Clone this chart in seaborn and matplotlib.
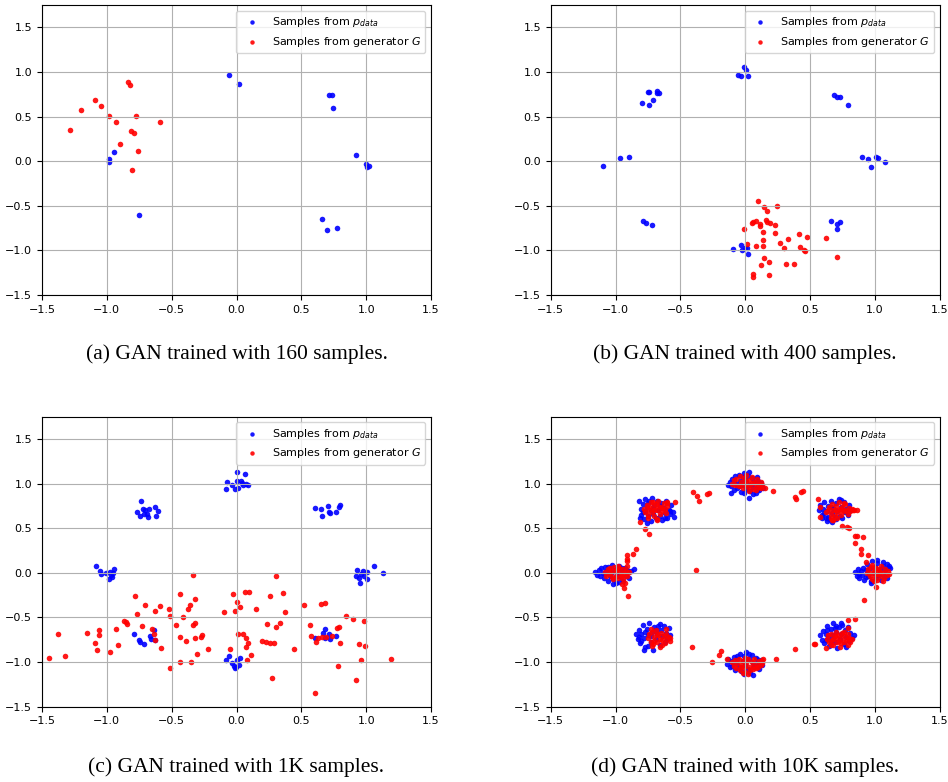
import numpy as np
import pandas as pd
import matplotlib
matplotlib.use("Agg")
import matplotlib.pyplot as plt
import seaborn as sns

# ---- panel (a): 160 samples ----
a_real = [(-0.054, 0.961), (0.018, 0.864), (0.712, 0.737), (0.733, 0.741), (0.746, 0.591),
          (0.918, 0.071), (0.995, -0.034), (1.005, -0.064), (1.021, -0.052), (-0.985, 0.022),
          (-0.982, -0.007), (-0.941, 0.105), (-0.753, -0.606), (0.661, -0.647), (0.699, -0.767),
          (0.774, -0.748)]
a_gen = [(-1.283, 0.352), (-1.200, 0.569), (-1.090, 0.688), (-1.046, 0.614), (-0.987, 0.509),
         (-0.931, 0.438), (-0.838, 0.887), (-0.825, 0.857), (-0.776, 0.505), (-0.810, 0.340),
         (-0.792, 0.314), (-0.897, 0.191), (-0.763, 0.112), (-0.807, -0.097), (-0.591, 0.438)]

# ---- panel (b): 400 samples ----
b_real = [(-0.008, 1.055), (0.008, 1.021), (-0.057, 0.965), (-0.036, 0.950), (0.023, 0.958),
          (-0.751, 0.771), (-0.741, 0.771), (-0.684, 0.782), (-0.677, 0.759), (-0.666, 0.767),
          (-0.795, 0.647), (-0.741, 0.625), (-0.713, 0.688),
          (0.682, 0.741), (0.710, 0.715), (0.731, 0.715), (0.790, 0.629),
          (-1.096, -0.052), (-0.967, 0.030), (-0.895, 0.049),
          (0.900, 0.049), (0.949, 0.019), (0.967, -0.060), (1.006, 0.049), (1.024, 0.037), (1.081, -0.007),
          (-0.792, -0.670), (-0.764, -0.692), (-0.715, -0.715),
          (0.661, -0.670), (0.710, -0.707), (0.728, -0.681), (0.707, -0.763),
          (-0.095, -0.988), (-0.033, -0.939), (-0.023, -0.999), (0.0, -0.969), (0.015, -0.973), (0.021, -1.040)]
b_gen = [(-0.008, -0.759), (0.095, -0.445), (0.147, -0.516), (0.170, -0.557), (0.244, -0.501),
         (0.049, -0.696), (0.064, -0.685), (0.085, -0.673), (0.116, -0.707), (0.113, -0.722),
         (0.160, -0.662), (0.167, -0.681), (0.188, -0.692), (0.229, -0.718), (0.134, -0.793),
         (0.231, -0.804), (0.015, -0.928), (0.085, -0.954), (0.136, -0.887), (0.141, -0.947),
         (0.268, -0.913), (0.327, -0.875), (0.298, -0.976), (0.412, -0.819), (0.473, -0.849),
         (0.419, -0.961), (0.450, -0.999), (0.458, -1.006), (0.144, -1.081), (0.183, -1.126),
         (0.124, -1.167), (0.311, -1.149), (0.376, -1.156), (0.059, -1.268), (0.059, -1.294),
         (0.183, -1.272), (0.623, -0.864), (0.710, -1.070)]

# ---- panel (c): 1K samples ----
c_real = [(0.003, 1.126), (0.069, 1.107), (-0.075, 1.021), (-0.031, 0.988), (0.003, 1.025),
          (0.033, 1.033), (0.046, 1.006), (0.077, 0.991), (0.051, 0.980), (-0.080, 0.943),
          (-0.015, 0.939), (0.013, 0.954), (0.087, 0.988),
          (-0.733, 0.801), (-0.771, 0.685), (-0.743, 0.632), (-0.722, 0.715), (-0.702, 0.700),
          (-0.692, 0.662), (-0.679, 0.625), (-0.671, 0.718), (-0.625, 0.737), (-0.607, 0.692),
          (-0.622, 0.640), (-0.712, 0.655),
          (0.602, 0.726), (0.650, 0.718), (0.656, 0.640), (0.707, 0.752), (0.717, 0.681),
          (0.722, 0.666), (0.766, 0.677), (0.787, 0.733), (0.799, 0.756),
          (-1.087, 0.079), (-1.051, 0.026), (-1.044, -0.011), (-1.005, -0.004), (-0.987, -0.067),
          (-0.967, -0.019), (-0.959, -0.052), (-0.941, 0.041), (-0.951, 0.0), (-0.977, 0.011),
          (0.933, 0.030), (0.923, -0.030), (0.943, -0.060), (0.956, -0.112), (0.979, 0.026),
          (0.987, -0.030), (1.010, 0.004), (1.010, -0.071), (1.057, 0.082), (1.129, -0.004),
          (0.959, -0.015),
          (-0.792, -0.681), (-0.753, -0.756), (-0.748, -0.778), (-0.710, -0.797), (-0.668, -0.711),
          (-0.661, -0.741), (-0.640, -0.643), (-0.632, -0.752),
          (0.679, -0.629), (0.666, -0.673), (0.684, -0.733), (0.712, -0.688), (0.720, -0.741),
          (0.771, -0.711), (0.607, -0.733),
          (-0.059, -0.935), (-0.080, -0.980), (-0.031, -1.006), (-0.023, -1.044), (-0.013, -1.070),
          (0.003, -0.973), (0.028, -0.958), (0.018, -1.033), (-0.003, -1.051)]
c_gen = [(-1.445, -0.954), (-1.380, -0.685), (-1.321, -0.935), (-1.154, -0.677), (-1.093, -0.786),
         (-1.072, -0.868), (-1.057, -0.643), (-1.057, -0.696), (-0.972, -0.887), (-0.928, -0.625),
         (-0.915, -0.804), (-0.864, -0.542), (-0.853, -0.554), (-0.843, -0.572), (-0.784, -0.254),
         (-0.766, -0.460), (-0.725, -0.591), (-0.702, -0.355), (-0.653, -0.632), (-0.638, -0.681),
         (-0.627, -0.430), (-0.625, -0.752), (-0.591, -0.370), (-0.584, -0.842), (-0.519, -0.400),
         (-0.509, -0.479), (-0.509, -1.070), (-0.463, -0.580), (-0.432, -0.239), (-0.432, -0.718),
         (-0.434, -0.999), (-0.411, -0.490), (-0.393, -0.763), (-0.375, -0.408), (-0.355, -0.355),
         (-0.350, -1.003), (-0.337, -0.022), (-0.337, -0.587), (-0.321, -0.565), (-0.319, -0.288),
         (-0.319, -0.730), (-0.303, -0.909), (-0.272, -0.718), (-0.265, -0.700), (-0.219, -0.849),
         (-0.098, -0.434), (-0.049, -0.853), (-0.026, -0.236), (-0.010, -0.426), (0.005, -0.325),
         (0.010, -0.688), (0.028, -0.382), (0.051, -0.688), (0.062, -0.213), (0.095, -0.217),
         (0.072, -0.730), (0.085, -0.789), (0.072, -0.834), (0.080, -0.973), (0.108, -0.924),
         (0.152, -0.404), (0.198, -0.767), (0.224, -0.778), (0.234, -0.572), (0.262, -0.262),
         (0.262, -0.789), (0.272, -1.175), (0.293, -0.789), (0.301, -0.606), (0.306, -0.030),
         (0.334, -0.561), (0.362, -0.224), (0.373, -0.438), (0.447, -0.849), (0.524, -0.355),
         (0.568, -0.580), (0.571, -0.707), (0.602, -1.343), (0.614, -0.778), (0.648, -0.352),
         (0.686, -0.337), (0.627, -0.730), (0.658, -0.715), (0.692, -0.722), (0.738, -0.703),
         (0.774, -0.614), (0.789, -0.606), (0.797, -0.782), (0.781, -1.044), (0.846, -0.483),
         (0.895, -0.520), (0.918, -1.197), (0.946, -0.801), (0.964, -0.973), (0.987, -0.539),
         (0.992, -0.819), (1.193, -0.961)]

# ---- panel (d): 10K samples, one list per mode ----
d_real_top = [(-0.12, 1.02), (-0.11, 0.97), (-0.10, 1.05), (-0.09, 0.93), (-0.08, 1.08), (-0.07, 1.00),
              (-0.06, 0.95), (-0.05, 1.10), (-0.04, 1.03), (-0.03, 0.91), (-0.02, 0.98), (-0.01, 1.12),
              (0.00, 1.04), (0.01, 0.94), (0.02, 1.09), (0.03, 0.99), (0.04, 0.92), (0.05, 1.06),
              (0.06, 0.96), (0.07, 1.02), (0.08, 0.90), (0.09, 1.07), (0.10, 0.97), (0.11, 0.93),
              (0.12, 1.01), (0.13, 0.96), (-0.13, 0.99), (-0.09, 1.01), (-0.05, 0.97), (0.03, 1.13),
              (0.06, 0.88), (0.03, 0.84), (-0.01, 0.89), (0.09, 0.93), (-0.11, 0.90), (0.14, 0.95),
              (-0.02, 1.07), (0.10, 1.03)]
d_real_ul = [(-0.82, 0.80), (-0.80, 0.72), (-0.80, 0.65), (-0.79, 0.77), (-0.78, 0.60), (-0.77, 0.83),
             (-0.77, 0.69), (-0.76, 0.74), (-0.75, 0.64), (-0.74, 0.80), (-0.73, 0.58), (-0.73, 0.70),
             (-0.72, 0.84), (-0.71, 0.66), (-0.70, 0.76), (-0.69, 0.61), (-0.68, 0.81), (-0.67, 0.70),
             (-0.66, 0.64), (-0.65, 0.78), (-0.64, 0.59), (-0.63, 0.73), (-0.62, 0.67), (-0.61, 0.80),
             (-0.60, 0.62), (-0.59, 0.71), (-0.58, 0.66), (-0.57, 0.76), (-0.56, 0.68), (-0.55, 0.63),
             (-0.81, 0.62), (-0.79, 0.68), (-0.75, 0.78), (-0.71, 0.72), (-0.66, 0.75), (-0.62, 0.62),
             (-0.58, 0.69), (-0.76, 0.56)]
d_real_ur = [(0.57, 0.70), (0.58, 0.76), (0.59, 0.65), (0.60, 0.72), (0.61, 0.79), (0.62, 0.62),
             (0.63, 0.69), (0.64, 0.75), (0.65, 0.60), (0.66, 0.81), (0.67, 0.67), (0.68, 0.73),
             (0.69, 0.63), (0.70, 0.78), (0.71, 0.69), (0.72, 0.83), (0.73, 0.64), (0.74, 0.74),
             (0.75, 0.61), (0.76, 0.79), (0.77, 0.68), (0.78, 0.72), (0.79, 0.65), (0.80, 0.76),
             (0.81, 0.70), (0.61, 0.67), (0.64, 0.63), (0.66, 0.74), (0.70, 0.60), (0.74, 0.82),
             (0.63, 0.58), (0.67, 0.57), (0.59, 0.62)]
d_real_l = [(-1.16, 0.01), (-1.14, -0.02), (-1.13, 0.03), (-1.12, -0.04), (-1.11, 0.05), (-1.10, 0.00),
            (-1.09, -0.06), (-1.08, 0.07), (-1.07, 0.02), (-1.06, -0.09), (-1.05, 0.04), (-1.04, -0.03),
            (-1.03, 0.09), (-1.02, -0.07), (-1.01, 0.03), (-1.00, -0.11), (-0.99, 0.06), (-0.98, -0.02),
            (-0.97, 0.08), (-0.96, -0.05), (-0.95, 0.02), (-0.94, -0.09), (-0.93, 0.05), (-0.92, -0.03),
            (-0.91, 0.03), (-0.90, -0.06), (-0.88, 0.02), (-0.86, 0.04), (-1.08, -0.01), (-1.03, 0.01),
            (-0.99, -0.04), (-0.95, 0.06), (-1.06, 0.07), (-1.02, -0.12), (-0.97, -0.10)]
d_real_r = [(0.85, 0.01), (0.86, -0.03), (0.87, 0.04), (0.88, -0.06), (0.89, 0.02), (0.90, -0.02),
            (0.91, 0.06), (0.92, -0.08), (0.93, 0.03), (0.94, 0.10), (0.95, -0.04), (0.96, 0.05),
            (0.97, -0.09), (0.98, 0.13), (0.99, 0.00), (1.00, 0.07), (1.01, -0.06), (1.02, 0.11),
            (1.03, -0.02), (1.04, 0.04), (1.05, -0.08), (1.06, 0.08), (1.07, -0.04), (1.08, 0.03),
            (1.09, 0.10), (1.10, 0.05), (1.11, 0.08), (1.12, 0.06), (0.88, -0.01), (0.93, -0.05),
            (1.02, 0.14), (1.09, -0.06), (0.97, -0.11), (1.06, 0.12)]
d_real_ll = [(-0.84, -0.69), (-0.83, -0.74), (-0.82, -0.64), (-0.81, -0.79), (-0.80, -0.68), (-0.79, -0.58),
             (-0.78, -0.73), (-0.77, -0.83), (-0.76, -0.63), (-0.75, -0.70), (-0.74, -0.56), (-0.73, -0.78),
             (-0.72, -0.66), (-0.71, -0.86), (-0.70, -0.61), (-0.69, -0.74), (-0.68, -0.68), (-0.67, -0.59),
             (-0.66, -0.81), (-0.65, -0.64), (-0.64, -0.71), (-0.63, -0.60), (-0.62, -0.77), (-0.61, -0.67),
             (-0.60, -0.73), (-0.59, -0.62), (-0.58, -0.70), (-0.80, -0.76), (-0.77, -0.66), (-0.73, -0.71),
             (-0.69, -0.64), (-0.75, -0.82), (-0.66, -0.57), (-0.82, -0.72), (-0.78, -0.86)]
d_real_bot = [(-0.14, -1.02), (-0.13, -0.97), (-0.12, -1.06), (-0.11, -0.99), (-0.10, -1.04), (-0.09, -0.94),
              (-0.08, -1.09), (-0.07, -1.01), (-0.06, -0.96), (-0.05, -1.05), (-0.04, -0.91), (-0.03, -1.10),
              (-0.02, -0.99), (-0.01, -0.93), (0.00, -1.03), (0.01, -0.89), (0.02, -1.08), (0.03, -0.97),
              (0.04, -1.12), (0.05, -0.92), (0.06, -1.01), (0.07, -1.06), (0.08, -0.95), (0.09, -1.04),
              (0.10, -0.99), (0.11, -1.08), (0.12, -0.98), (0.13, -1.03), (0.06, -1.14), (-0.01, -1.13),
              (0.03, -0.91), (-0.06, -0.93), (-0.10, -1.00), (0.09, -0.97)]
d_real_lr = [(0.58, -0.70), (0.59, -0.75), (0.60, -0.65), (0.61, -0.79), (0.62, -0.68), (0.63, -0.60),
             (0.64, -0.73), (0.65, -0.82), (0.66, -0.63), (0.67, -0.70), (0.68, -0.56), (0.69, -0.77),
             (0.70, -0.66), (0.71, -0.84), (0.72, -0.61), (0.73, -0.74), (0.74, -0.68), (0.75, -0.58),
             (0.76, -0.80), (0.77, -0.64), (0.78, -0.72), (0.79, -0.61), (0.80, -0.76), (0.81, -0.67),
             (0.82, -0.73), (0.84, -0.70), (0.62, -0.75), (0.66, -0.77), (0.70, -0.59), (0.74, -0.56),
             (0.63, -0.64), (0.78, -0.83), (0.69, -0.62)]

d_gen_top = [(-0.10, 1.00), (-0.09, 1.04), (-0.08, 0.98), (-0.07, 1.05), (-0.05, 0.97), (-0.04, 1.08),
             (-0.03, 1.02), (-0.02, 0.95), (-0.01, 1.06), (0.00, 1.00), (0.01, 1.10), (0.02, 0.96),
             (0.03, 1.04), (0.04, 0.99), (0.05, 1.07), (0.06, 0.94), (0.07, 1.02), (0.08, 0.98),
             (0.09, 1.05), (0.10, 1.00), (0.11, 0.96), (0.12, 1.02), (0.01, 1.03), (0.05, 1.01),
             (-0.04, 0.99), (0.08, 0.93), (0.15, 0.95), (0.13, 0.98), (0.03, 0.92)]
d_gen_ul = [(-0.78, 0.72), (-0.77, 0.68), (-0.76, 0.76), (-0.75, 0.65), (-0.74, 0.71), (-0.73, 0.79),
            (-0.72, 0.68), (-0.71, 0.74), (-0.70, 0.64), (-0.69, 0.77), (-0.68, 0.70), (-0.67, 0.81),
            (-0.66, 0.66), (-0.65, 0.74), (-0.64, 0.69), (-0.63, 0.78), (-0.62, 0.72), (-0.61, 0.67),
            (-0.60, 0.75), (-0.74, 0.74), (-0.70, 0.70), (-0.67, 0.75), (-0.64, 0.73), (-0.71, 0.79),
            (-0.60, 0.78), (-0.68, 0.60), (-0.75, 0.62)]
d_gen_ur = [(0.64, 0.70), (0.65, 0.74), (0.66, 0.66), (0.67, 0.77), (0.68, 0.70), (0.69, 0.64),
            (0.70, 0.75), (0.71, 0.68), (0.72, 0.79), (0.73, 0.72), (0.74, 0.65), (0.75, 0.74),
            (0.76, 0.69), (0.77, 0.77), (0.78, 0.71), (0.79, 0.66), (0.80, 0.73), (0.81, 0.69),
            (0.82, 0.72), (0.83, 0.70), (0.84, 0.71), (0.86, 0.70), (0.70, 0.71), (0.74, 0.70),
            (0.66, 0.62), (0.71, 0.61), (0.76, 0.78), (0.62, 0.68), (0.67, 0.59)]
d_gen_l = [(-1.08, 0.01), (-1.07, -0.03), (-1.06, 0.04), (-1.05, -0.01), (-1.04, 0.06), (-1.03, -0.05),
           (-1.02, 0.02), (-1.01, 0.07), (-1.00, -0.03), (-0.99, 0.03), (-0.98, -0.06), (-0.97, 0.05),
           (-0.96, 0.00), (-0.95, -0.04), (-0.94, 0.04), (-0.93, -0.01), (-0.92, 0.02), (-0.91, -0.03),
           (-0.90, 0.01), (-1.04, 0.00), (-1.00, 0.02), (-0.96, -0.02), (-1.02, -0.07), (-0.98, 0.08),
           (-0.94, -0.07), (-0.93, -0.11)]
d_gen_r = [(0.94, 0.00), (0.95, 0.04), (0.96, -0.04), (0.97, 0.07), (0.98, -0.07), (0.99, 0.02),
           (1.00, -0.02), (1.01, 0.06), (1.02, -0.08), (1.03, 0.03), (1.04, -0.04), (1.05, 0.08),
           (1.06, 0.00), (1.07, -0.06), (1.08, 0.04), (1.09, -0.02), (1.10, 0.02), (1.11, -0.01),
           (0.98, 0.09), (1.00, 0.04), (1.04, 0.01), (1.02, -0.01), (0.96, 0.00), (1.06, -0.09),
           (0.99, -0.09)]
d_gen_ll = [(-0.75, -0.73), (-0.74, -0.69), (-0.73, -0.77), (-0.72, -0.66), (-0.71, -0.80), (-0.70, -0.72),
            (-0.69, -0.64), (-0.68, -0.78), (-0.67, -0.70), (-0.66, -0.83), (-0.65, -0.67), (-0.64, -0.75),
            (-0.63, -0.71), (-0.62, -0.79), (-0.61, -0.68), (-0.60, -0.74), (-0.59, -0.72), (-0.70, -0.76),
            (-0.66, -0.74), (-0.68, -0.68), (-0.72, -0.82), (-0.64, -0.81), (-0.73, -0.63), (-0.58, -0.76),
            (-0.61, -0.63)]
d_gen_bot = [(-0.10, -1.00), (-0.09, -1.04), (-0.08, -0.98), (-0.07, -1.07), (-0.06, -1.01), (-0.05, -0.96),
             (-0.04, -1.09), (-0.03, -1.03), (-0.02, -0.99), (-0.01, -1.06), (0.00, -1.11), (0.01, -1.01),
             (0.02, -0.96), (0.03, -1.05), (0.04, -1.09), (0.05, -1.00), (0.06, -1.04), (0.07, -0.97),
             (0.08, -1.07), (0.09, -1.02), (0.10, -1.05), (0.11, -0.99), (0.12, -1.03), (0.13, -1.01),
             (0.02, -1.13), (-0.03, -1.06), (0.06, -1.08), (0.00, -0.95), (-0.02, -1.12), (0.14, -0.97)]
d_gen_lr = [(0.63, -0.74), (0.64, -0.70), (0.65, -0.78), (0.66, -0.68), (0.67, -0.75), (0.68, -0.81),
            (0.69, -0.71), (0.70, -0.66), (0.71, -0.77), (0.72, -0.70), (0.73, -0.83), (0.74, -0.73),
            (0.75, -0.67), (0.76, -0.78), (0.77, -0.71), (0.78, -0.75), (0.79, -0.69), (0.80, -0.73),
            (0.81, -0.77), (0.68, -0.74), (0.72, -0.76), (0.74, -0.79), (0.70, -0.72), (0.66, -0.81),
            (0.76, -0.66), (0.82, -0.74), (0.79, -0.81)]
# generator samples sitting between the modes
d_gen_between = [(-0.404, 0.905), (-0.371, 0.857), (-0.355, 0.808), (-0.293, 0.883), (-0.278, 0.890),
                 (-0.543, 0.789), (-0.600, 0.789), (-0.808, 0.572), (-0.680, 0.590), (-0.775, 0.490),
                 (-0.741, 0.430), (-0.842, 0.269), (-0.867, 0.213), (-0.911, 0.202), (-0.914, 0.153),
                 (-0.911, 0.135), (-0.911, 0.079), (-0.952, -0.120), (-0.932, -0.172), (-0.906, -0.262),
                 (-0.381, 0.037), (0.121, 0.950), (0.216, 0.917), (0.384, 0.846), (0.394, 0.827),
                 (0.432, 0.905), (0.443, 0.920), (0.561, 0.827), (0.574, 0.733), (0.574, 0.625),
                 (0.680, 0.587), (0.746, 0.527), (0.785, 0.509), (0.801, 0.498), (0.844, 0.415),
                 (0.862, 0.415), (0.906, 0.404), (0.847, 0.337), (0.891, 0.262), (0.896, 0.213),
                 (0.947, 0.195), (0.932, 0.120), (1.012, -0.161), (0.919, -0.303), (0.790, -0.527),
                 (0.844, -0.520), (0.793, -0.621), (0.800, -0.744), (0.528, -0.793), (0.538, -0.793),
                 (0.625, -0.838), (0.386, -0.857), (0.237, -0.961), (0.126, -0.976), (-0.139, -0.965),
                 (-0.200, -0.920), (-0.185, -0.880), (-0.257, -1.003), (-0.412, -0.831), (-0.582, -0.730)]

d_real = d_real_top + d_real_ul + d_real_ur + d_real_l + d_real_r + d_real_ll + d_real_bot + d_real_lr
d_gen = (d_gen_top + d_gen_ul + d_gen_ur + d_gen_l + d_gen_r + d_gen_ll + d_gen_bot + d_gen_lr
         + d_gen_between)

captions = ["(a) GAN trained with 160 samples.", "(b) GAN trained with 400 samples.",
            "(c) GAN trained with 1K samples.", "(d) GAN trained with 10K samples."]


def draw_panel(fig, rect, real, gen, caption, cap_y):
    ax = fig.add_axes(rect)
    real_df = pd.DataFrame(real, columns=["x", "y"])
    gen_df = pd.DataFrame(gen, columns=["x", "y"])
    sns.scatterplot(data=real_df, x="x", y="y", ax=ax, color="b", s=16, linewidth=0,
                    alpha=0.9, label=r"Samples from $p_{data}$")
    sns.scatterplot(data=gen_df, x="x", y="y", ax=ax, color="r", s=16, linewidth=0,
                    alpha=0.9, label=r"Samples from generator $G$")
    ax.set_xlim(-1.5, 1.5)
    ax.set_ylim(-1.5, 1.75)
    ax.set_xticks(np.arange(-1.5, 1.51, 0.5))
    ax.set_yticks(np.arange(-1.5, 1.51, 0.5))
    ax.set_xlabel("")
    ax.set_ylabel("")
    ax.grid(True, color="#b0b0b0", linewidth=0.8)
    ax.tick_params(labelsize=8)
    ax.legend(loc="upper right", fontsize=8, markerscale=0.8)
    fig.text(rect[0] + rect[2] / 2, cap_y, caption, ha="center", va="center",
             family="Liberation Serif", fontsize=15.5)
    return ax


fig = plt.figure(figsize=(9.48, 7.82), dpi=100)
w, h = 389 / 948, 290 / 782
left1, left2 = 42 / 948, 550.7 / 948
bot1, bot2 = 1 - 295 / 782, 1 - 706.7 / 782

draw_panel(fig, [left1, bot1, w, h], a_real, a_gen, captions[0], 1 - 354 / 782)
draw_panel(fig, [left2, bot1, w, h], b_real, b_gen, captions[1], 1 - 354 / 782)
draw_panel(fig, [left1, bot2, w, h], c_real, c_gen, captions[2], 1 - 767 / 782)
draw_panel(fig, [left2, bot2, w, h], d_real, d_gen, captions[3], 1 - 767 / 782)

fig.savefig("out.png", dpi=100)
